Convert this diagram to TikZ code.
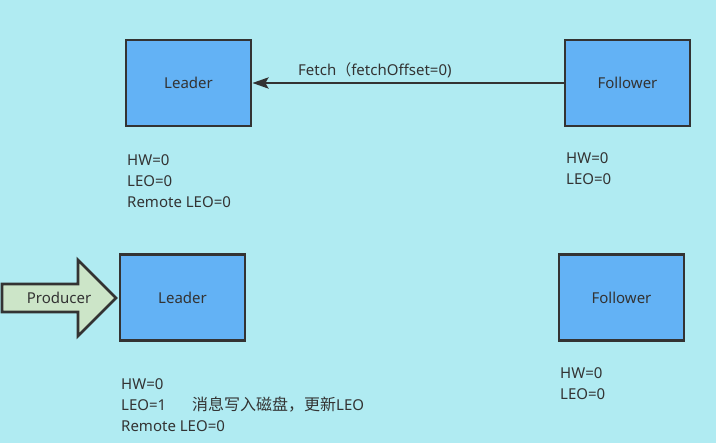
\documentclass[tikz,border=0pt]{standalone}
\usepackage{fontspec}
\setmainfont{Noto Sans}
\newfontfamily\cjk{Noto Sans CJK SC}
\usetikzlibrary{arrows.meta,positioning}

\definecolor{bgcyan}{RGB}{176,235,242}
\definecolor{boxblue}{RGB}{99,178,245}
\definecolor{darkline}{RGB}{51,51,51}
\definecolor{prodgreen}{RGB}{204,229,200}

\begin{document}
\begin{tikzpicture}[
  x=1pt, y=-1pt,
  line join=miter,
  font=\fontsize{15pt}{21pt}\selectfont,
  text=darkline,
  broker/.style={draw=darkline, fill=boxblue, line width=2.8pt, minimum width=125pt, minimum height=86pt, inner sep=0pt},
  fetch/.style={-{Stealth[length=16pt,width=11pt,inset=3pt]}, line width=2.8pt, draw=darkline},
  info/.style={anchor=west, align=left, inner sep=0pt},
  push/.style={draw=darkline, fill=prodgreen, line width=2.8pt}
]

% Canvas.
\fill[bgcyan] (0,0) rectangle (716,443);
\useasboundingbox (0,0) rectangle (716,443);

% Before the write: replicas and fetch request.
\node[broker] (leaderA) at (188.5,83) {Leader};
\node[broker] (followerA) at (627.5,83) {Follower};
\draw[fetch] (followerA.west) -- (leaderA.east);
\node[anchor=west, inner sep=0pt] (fetchLabel) at (298,70) {Fetch{\cjk （}fetchOffset=0)};

\node[info] (leaderAInfo) at (127,181) {HW=0\\LEO=0\\Remote LEO=0};
\node[info] (followerAInfo) at (566,169) {HW=0\\LEO=0};

% After the producer writes.
\node[broker] (leaderB) at (182.5,297.5) {Leader};
\node[broker] (followerB) at (621.5,297.5) {Follower};

\draw[push] (2,284) -- (78,284) -- (78,260) -- (116,298) -- (78,336) -- (78,312) -- (2,312) -- cycle;
\node (producer) at (59,298) {Producer};

\node[info] (leaderBInfo) at (121,405) {HW=0\\LEO=1\\Remote LEO=0};
\node[info] (writeNote) at (192,405) {{\cjk\fontsize{16pt}{21pt}\selectfont 消息写入磁盘，更新}LEO};
\node[info] (followerBInfo) at (560,384) {HW=0\\LEO=0};

\end{tikzpicture}
\end{document}
